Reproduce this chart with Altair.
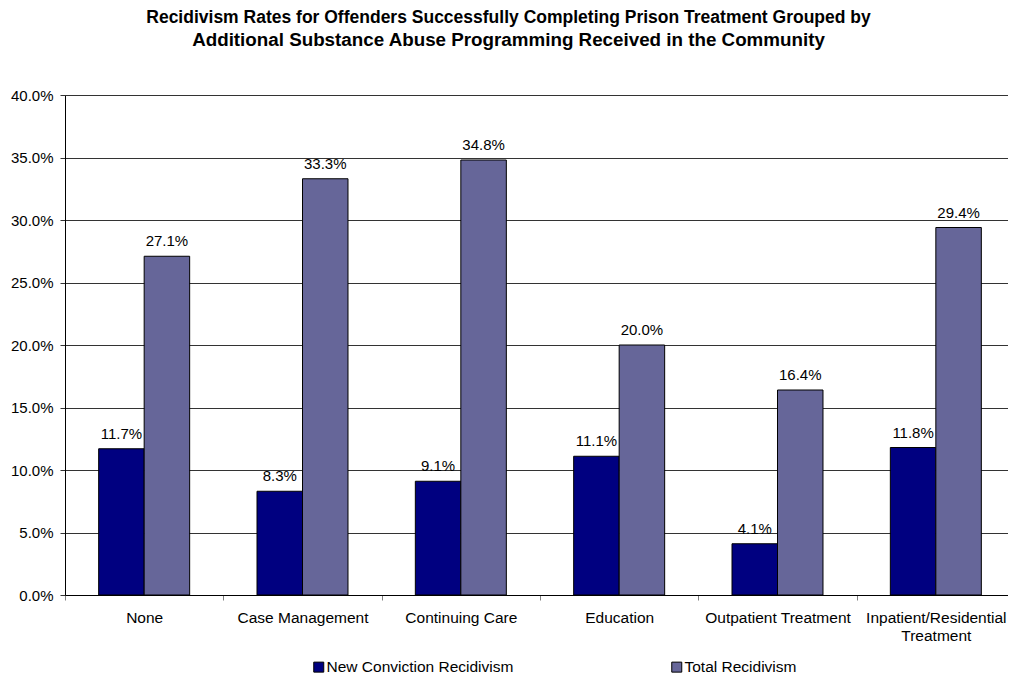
import altair as alt
import pandas as pd

categories = ["None", "Case Management", "Continuing Care", "Education",
              "Outpatient Treatment", "Inpatient/Residential Treatment"]
series_names = ["New Conviction Recidivism", "Total Recidivism"]
new_conviction = [0.117, 0.083, 0.091, 0.111, 0.041, 0.118]
total = [0.271, 0.333, 0.348, 0.200, 0.164, 0.294]
colors = ["#000080", "#666699"]
y_ticks = [0.0, 0.05, 0.10, 0.15, 0.20, 0.25, 0.30, 0.35, 0.40]
title_line1 = "Recidivism Rates for Offenders Successfully Completing Prison Treatment Grouped by"
title_line2 = "Additional Substance Abuse Programming Received in the Community"

rows = []
for c, a, b in zip(categories, new_conviction, total):
    rows.append({"program": c, "series": series_names[0], "rate": a})
    rows.append({"program": c, "series": series_names[1], "rate": b})
df = pd.DataFrame(rows)

FONT = "Liberation Sans"
W = 943          # drawn plot width (svg ends at page edge minus margin)
RANGE = 950      # category band range
HALF = RANGE / 6 / 2

x_enc = alt.X(
    "program:N",
    sort=categories,
    scale=alt.Scale(range=[0, RANGE], paddingInner=0, paddingOuter=0),
    axis=alt.Axis(
        title=None,
        labelAngle=0,
        labelFontSize=15.5,
        labelColor="black",
        labelFont=FONT,
        labelPadding=10,
        labelLineHeight=18,
        labelLimit=400,
        labelOverlap=False,
        labelFlush=False,
        labelExpr="datum.label == 'Inpatient/Residential Treatment' ? ['Inpatient/Residential', 'Treatment'] : datum.label",
        tickOffset=-HALF,
        labelOffset=HALF,
        tickSize=5,
        tickColor="#808080",
        domainColor="black",
        grid=False,
    ),
)
xoff = alt.XOffset(
    "series:N",
    sort=series_names,
    scale=alt.Scale(domain=series_names, paddingOuter=0.74, paddingInner=0),
)
y_enc = alt.Y(
    "rate:Q",
    scale=alt.Scale(domain=[0, 0.4], nice=False),
    axis=alt.Axis(
        title=None,
        values=y_ticks,
        format=".1%",
        labelFontSize=15,
        labelColor="black",
        labelFont=FONT,
        labelPadding=7,
        tickSize=5,
        tickColor="#333333",
        domainColor="black",
        gridColor="#333333",
        gridWidth=1,
    ),
)

bars = alt.Chart(df).mark_bar(stroke="black", strokeWidth=1).encode(
    x=x_enc,
    xOffset=xoff,
    y=y_enc,
    color=alt.Color(
        "series:N",
        sort=series_names,
        scale=alt.Scale(domain=series_names, range=colors),
        legend=alt.Legend(
            title=None,
            orient="none",
            legendX=246,
            legendY=564,
            direction="horizontal",
            columns=2,
            columnPadding=155,
            symbolType="square",
            symbolSize=100,
            symbolStrokeColor="black",
            symbolStrokeWidth=1,
            symbolOpacity=1,
            labelFontSize=15.5,
            labelFont=FONT,
            labelColor="black",
            labelOffset=0,
            labelLimit=400,
            padding=0,
        ),
    ),
)

labels = alt.Chart(df).mark_text(
    baseline="alphabetic", dy=-10, fontSize=15, font=FONT, color="black"
).encode(
    x=alt.X("program:N", sort=categories),
    xOffset=alt.XOffset("series:N", sort=series_names),
    y=alt.Y("rate:Q"),
    text=alt.Text("rate:Q", format=".1%"),
)

chart = (
    alt.layer(bars, labels)
    .properties(
        width=W,
        height=500,
        autosize=alt.AutoSizeParams(type="none"),
        padding={"left": 57, "top": 87, "right": 0, "bottom": 81},
        title=alt.TitleParams(
            text=title_line1,
            subtitle=title_line2,
            font=FONT,
            subtitleFont=FONT,
            fontSize=17.5,
            subtitleFontSize=18.8,
            fontWeight="bold",
            subtitleFontWeight="bold",
            color="black",
            subtitleColor="black",
            subtitlePadding=5,
            anchor="middle",
            dx=-28,
            offset=38,
        ),
    )
    .configure_view(stroke=None)
    .configure(font=FONT)
)

chart.save("out.html", embed_options={"renderer": "svg", "actions": False})
